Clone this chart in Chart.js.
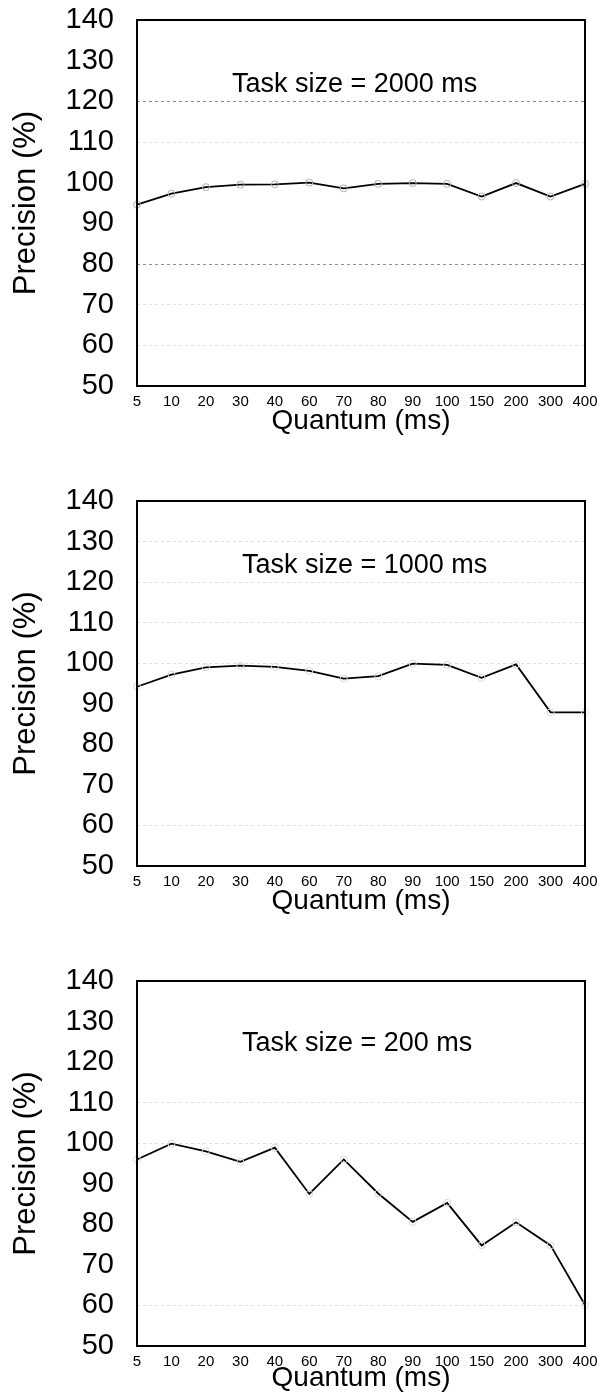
<!DOCTYPE html>
<html><head><meta charset="utf-8">
<script src="https://cdn.jsdelivr.net/npm/chart.js@4.4.0/dist/chart.umd.min.js"></script>
<style>
html,body{margin:0;padding:0;background:#fff;}
body{width:600px;height:1395px;position:relative;overflow:hidden;}
.wrap{position:absolute;left:0;width:600px;}
canvas{display:block;}
</style></head><body>
<div class="wrap" style="top:0px"><canvas id="c1" width="600" height="438"></canvas></div>
<div class="wrap" style="top:470px"><canvas id="c2" width="600" height="448"></canvas></div>
<div class="wrap" style="top:950px"><canvas id="c3" width="600" height="445"></canvas></div>
<script>
const quantumLabels = ['5','10','20','30','40','60','70','80','90','100','150','200','300','400'];
const precision2000 = [94.6, 97.3, 98.9, 99.5, 99.6, 100.0, 98.6, 99.7, 99.9, 99.7, 96.6, 99.9, 96.6, 99.7];
const precision1000 = [94.2, 97.2, 99.0, 99.4, 99.1, 98.1, 96.2, 96.8, 99.9, 99.6, 96.4, 99.7, 87.9, 87.9];
const precision200  = [96.0, 99.9, 98.0, 95.4, 98.9, 87.5, 96.0, 87.6, 80.6, 85.3, 74.8, 80.5, 74.8, 60.1];
const taskLabels = ['Task size = 2000 ms', 'Task size = 1000 ms', 'Task size = 200 ms'];
const yMin = 50, yMax = 140, yStep = 10;
const xTitle = 'Quantum (ms)';
const yTitle = 'Precision (%)';

const FONT = '"Liberation Sans", Arial, Helvetica, sans-serif';

const boxPlugin = {
  id: 'boxAndNote',
  afterDatasetsDraw(chart, args, opts) {
    const {ctx, chartArea: a} = chart;
    ctx.save();
    ctx.strokeStyle = '#000';
    ctx.lineWidth = 2;
    ctx.strokeRect(a.left, a.top, a.right - a.left, a.bottom - a.top);
    ctx.font = '27px ' + FONT;
    ctx.fillStyle = '#000';
    ctx.textBaseline = 'middle';
    ctx.textAlign = 'left';
    ctx.fillText(opts.text, opts.x, a.top + opts.dy);
    ctx.restore();
  }
};

function makeChart(id, values, note, noteX, noteDy, padTop, xAxisH, gridFn, markerColor) {
  return new Chart(document.getElementById(id), {
    type: 'line',
    data: {
      labels: quantumLabels,
      datasets: [{
        data: values,
        borderColor: '#000',
        borderWidth: 1.8,
        tension: 0,
        fill: false,
        pointRadius: 3.5,
        pointBorderWidth: 1,
        pointBorderColor: markerColor,
        pointBackgroundColor: 'rgba(0,0,0,0)'
      }]
    },
    options: {
      responsive: false,
      animation: false,
      layout: {padding: {top: padTop, right: 15, left: 0, bottom: 0}},
      plugins: {
        legend: {display: false},
        tooltip: {enabled: false},
        boxAndNote: {text: note, x: noteX, dy: noteDy}
      },
      scales: {
        x: {
          offset: false,
          grid: {display: false, drawTicks: true, tickLength: 7},
          border: {display: false},
          ticks: {color: '#000', font: {family: FONT, size: 15}, padding: 0, maxRotation: 0, autoSkip: false},
          title: {display: true, text: xTitle, color: '#000', font: {family: FONT, size: 28}, padding: {top: 0, bottom: 0}},
          afterFit(s) { s.height = xAxisH; }
        },
        y: {
          min: yMin, max: yMax,
          grid: {color: ctx => gridFn(ctx.tick.value), lineWidth: 1, drawTicks: true, tickLength: 23, tickColor: 'rgba(0,0,0,0)'},
          border: {display: false, dash: [3, 3]},
          ticks: {stepSize: yStep, color: '#000', font: {family: FONT, size: 29}, padding: 0},
          title: {display: true, text: yTitle, color: '#000', font: {family: FONT, size: 31}, padding: {top: 8, bottom: 0}},
          afterFit(s) { s.width = 137; }
        }
      }
    },
    plugins: [boxPlugin]
  });
}

const grid1 = v => (v === 120 || v === 80) ? '#8e8e8e' : ((v === 110 || v === 70 || v === 60) ? '#e2e2e2' : 'rgba(0,0,0,0)');
const grid2 = v => (v === 130 || v === 120 || v === 110 || v === 100 || v === 60) ? '#dddddd' : 'rgba(0,0,0,0)';
const grid3 = v => (v === 110 || v === 100 || v === 60) ? '#dddddd' : 'rgba(0,0,0,0)';

makeChart('c1', precision2000, taskLabels[0], 232, 65, 20, 52, grid1, '#b0b0b0');
makeChart('c2', precision1000, taskLabels[1], 242, 65, 31, 52, grid2, '#d8d8d8');
makeChart('c3', precision200,  taskLabels[2], 242, 63, 31, 49, grid3, '#d8d8d8');
</script>
</body></html>
